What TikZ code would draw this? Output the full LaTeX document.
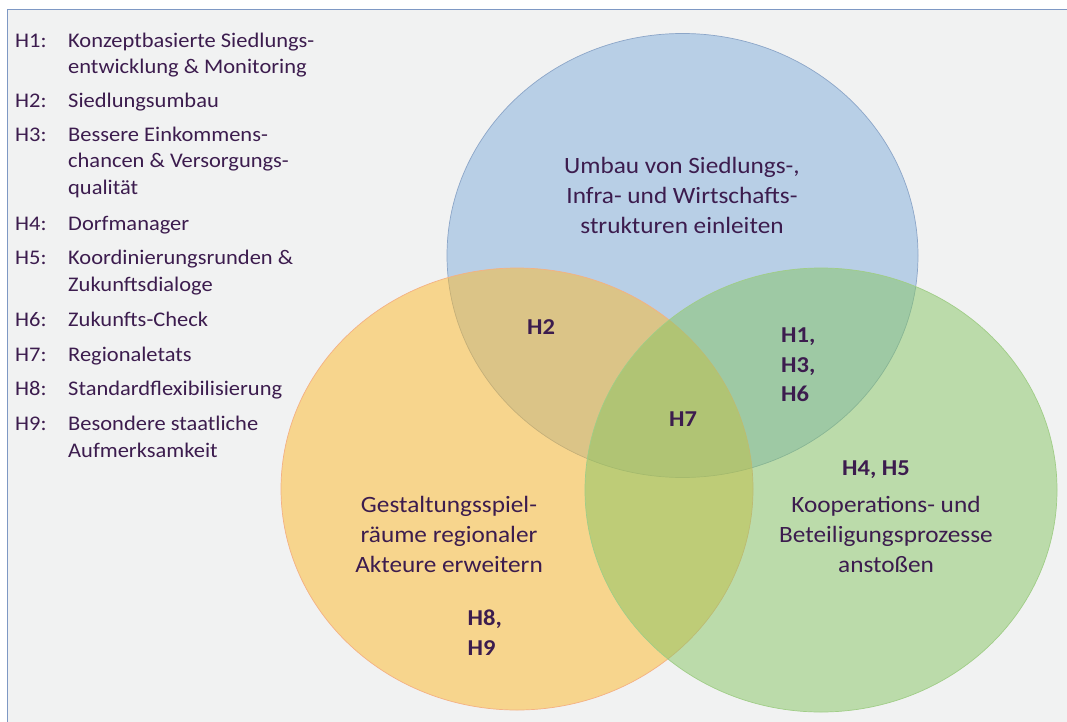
\documentclass[tikz,border=0pt]{standalone}
\usepackage{fontspec}
\setmainfont{Carlito}[FakeStretch=1.08]
\definecolor{bgc}{RGB}{241,242,242}
\definecolor{framec}{RGB}{126,152,196}
\definecolor{bluefill}{RGB}{184,207,230}
\definecolor{blueline}{RGB}{140,166,200}
\definecolor{orangebase}{RGB}{254,186,42}
\definecolor{orangeline}{RGB}{244,177,131}
\definecolor{greenbase}{RGB}{134,197,99}
\definecolor{greenline}{RGB}{160,205,135}
\definecolor{txt}{RGB}{60,28,78}
\tikzset{
  leg/.style={anchor=base west, inner sep=0pt, text=txt, font=\fontsize{20.8}{25}\selectfont},
  ctext/.style={anchor=base, inner sep=0pt, text=txt, font=\fontsize{23.4}{28}\selectfont},
  hlab/.style={inner sep=0pt, text=txt, font=\fontsize{22.7}{28}\selectfont\bfseries},
  setc/.style={line width=0.7pt}
}
\begin{document}
\begin{tikzpicture}[x=1pt,y=-1pt]
\useasboundingbox (0,0) rectangle (1067,722);
\fill[white] (0,0) rectangle (1067,722);
\fill[bgc] (7,10) rectangle (1067,722);
\draw[framec, line width=1pt] (7,722) -- (7,10) -- (1067,10);

% sets
\draw[setc, draw=blueline, fill=bluefill] (682.5,255.5) ellipse [x radius=235.5, y radius=222];
\draw[setc, draw=orangeline, fill=orangebase, fill opacity=0.5] (517,489) ellipse [x radius=236, y radius=221];
\draw[setc, draw=greenline, fill=greenbase, fill opacity=0.5] (821,490) ellipse [x radius=236, y radius=222];

% legend
\node[leg] (k1) at (15,47.5) {H1:};
\node[leg] (t1a) at (68,47.5) {Konzeptbasierte Siedlungs-};
\node[leg] (t1b) at (68,73.5) {entwicklung \& Monitoring};
\node[leg] (k2) at (15,107.5) {H2:};
\node[leg] (t2a) at (68,107.5) {Siedlungsumbau};
\node[leg] (k3) at (15,141.5) {H3:};
\node[leg] (t3a) at (68,141.5) {Bessere Einkommens-};
\node[leg] (t3b) at (68,167.5) {chancen \& Versorgungs-};
\node[leg] (t3c) at (68,194.5) {qualität};
\node[leg] (k4) at (15,230.5) {H4:};
\node[leg] (t4a) at (68,230.5) {Dorfmanager};
\node[leg] (k5) at (15,264.5) {H5:};
\node[leg] (t5a) at (68,264.5) {Koordinierungsrunden \&};
\node[leg] (t5b) at (68,291.5) {Zukunftsdialoge};
\node[leg] (k6) at (15,326.5) {H6:};
\node[leg] (t6a) at (68,326.5) {Zukunfts-Check};
\node[leg] (k7) at (15,361.5) {H7:};
\node[leg] (t7a) at (68,361.5) {Regionaletats};
\node[leg] (k8) at (15,395.5) {H8:};
\node[leg] (t8a) at (68,395.5) {Standardflexibilisierung};
\node[leg] (k9) at (15,430.5) {H9:};
\node[leg] (t9a) at (68,430.5) {Besondere staatliche};
\node[leg] (t9b) at (68,457.5) {Aufmerksamkeit};

% blue set text
\node[ctext] (ba) at (682,173.5) {Umbau von Siedlungs-,};
\node[ctext] (bb) at (682,203.5) {Infra- und Wirtschafts-};
\node[ctext] (bc) at (682,233.5) {strukturen einleiten};

% orange set text
\node[ctext] (oa) at (449,512.3) {Gestaltungsspiel-};
\node[ctext] (ob) at (449,542.3) {räume regionaler};
\node[ctext] (oc) at (449,572.3) {Akteure erweitern};

% green set text
\node[ctext] (ga) at (886,512.3) {Kooperations- und};
\node[ctext] (gb) at (886,542.3) {Beteiligungsprozesse};
\node[ctext] (gc) at (886,572.3) {anstoßen};

% H labels
\node[hlab, anchor=base] (h2) at (541,334) {H2};
\node[hlab, anchor=base] (h7) at (683,426.7) {H7};
\node[hlab, anchor=base west] (h1) at (781,342.3) {H1,};
\node[hlab, anchor=base west] (h3) at (781,372.3) {H3,};
\node[hlab, anchor=base west] (h6) at (781,401.5) {H6};
\node[hlab, anchor=base] (h45) at (876,475) {H4, H5};
\node[hlab, anchor=base west] (h8) at (467.5,625) {H8,};
\node[hlab, anchor=base west] (h9) at (467.5,655) {H9};
\end{tikzpicture}
\end{document}
